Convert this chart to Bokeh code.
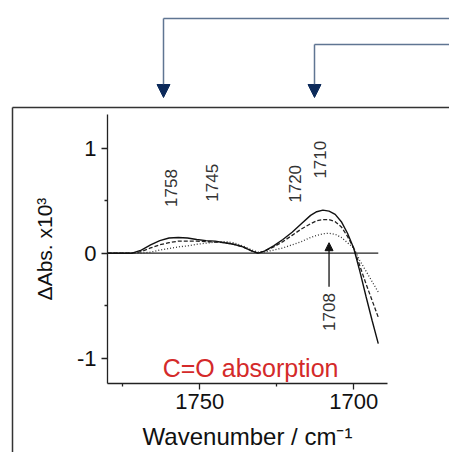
import numpy as np
from bokeh.plotting import figure
from bokeh.models import Arrow, NormalHead, FixedTicker, Range1d, Label
from bokeh.core.properties import value
from bokeh.embed import file_html
from bokeh.resources import INLINE

# Difference spectra in the C=O stretching region (wavenumber in cm^-1, dAbs x 10^3)
wavenumber = [1780, 1772, 1769, 1766, 1763, 1760, 1757, 1754, 1751, 1748, 1745,
              1742, 1739, 1736, 1733, 1731, 1729, 1726, 1723, 1720, 1717, 1714,
              1712, 1710, 1708, 1706, 1704, 1702, 1700, 1698, 1696, 1694, 1692]
solid = [0.0, 0.0, 0.03, 0.08, 0.12, 0.145, 0.15, 0.145, 0.13, 0.12, 0.115,
         0.10, 0.085, 0.06, 0.02, 0.0, 0.02, 0.07, 0.13, 0.20, 0.28, 0.36,
         0.395, 0.41, 0.40, 0.37, 0.30, 0.19, 0.05, -0.17, -0.41, -0.64, -0.86]
dashed = [0.0, 0.0, 0.015, 0.05, 0.08, 0.10, 0.115, 0.115, 0.115, 0.11, 0.105,
          0.10, 0.085, 0.06, 0.02, 0.0, 0.02, 0.06, 0.11, 0.17, 0.23, 0.28,
          0.31, 0.32, 0.32, 0.30, 0.25, 0.16, 0.05, -0.12, -0.29, -0.45, -0.61]
dotted = [0.0, 0.0, 0.0, 0.01, 0.03, 0.045, 0.06, 0.07, 0.085, 0.095, 0.105,
          0.11, 0.10, 0.07, 0.03, 0.01, 0.01, 0.03, 0.05, 0.08, 0.11, 0.15,
          0.17, 0.185, 0.19, 0.18, 0.15, 0.10, 0.05, -0.07, -0.17, -0.27, -0.37]

# Band assignments written above the peaks
band_labels = ["1758", "1745", "1720", "1710"]
band_x = [1759.5, 1746, 1719, 1711]
band_y = [0.44, 0.49, 0.48, 0.71]

marked_band = 1708

x_ticks = [1750, 1700]
x_minor = [1775, 1725]
y_ticks = [-1, 0, 1]
y_minor = [-0.5, 0.5]
y_tick_text = {-1: "-1", 0: "0", 1: "1"}

FONT = "Liberation Sans"

# canvas size and the pixel box occupied by the axes
W, H = 449, 452
BOX_L, BOX_R, BOX_T, BOX_B = 107, 387, 114, 383
X_HI, X_LO = 1780, 1689       # reversed wavenumber axis
Y_LO, Y_HI = -1.24, 1.32

# the frame spans the whole canvas; data ranges are widened so the axes sit in the box
dx = (X_HI - X_LO) / (BOX_R - BOX_L)
dy = (Y_HI - Y_LO) / (BOX_B - BOX_T)
x_range = Range1d(X_HI + BOX_L * dx, X_LO - (W - BOX_R) * dx)
y_range = Range1d(Y_LO - (H - BOX_B) * dy, Y_HI + BOX_T * dy)

p = figure(width=W, height=H, output_backend="svg", toolbar_location=None,
           x_range=x_range, y_range=y_range, min_border=0)
p.background_fill_color = "white"
p.border_fill_color = "white"
p.outline_line_color = None
p.grid.visible = False

# pixel coordinate system for the panel decorations
p.extra_x_ranges = {"px": Range1d(0, W)}
p.extra_y_ranges = {"px": Range1d(H, 0)}

p.xaxis.fixed_location = Y_LO
p.xaxis.bounds = (X_LO, X_HI)
p.yaxis.fixed_location = X_HI
p.yaxis.bounds = (Y_LO, Y_HI)

p.xaxis.ticker = FixedTicker(ticks=x_ticks, minor_ticks=x_minor)
p.yaxis.ticker = FixedTicker(ticks=y_ticks, minor_ticks=y_minor)
p.yaxis.major_label_overrides = y_tick_text
for ax in (p.xaxis, p.yaxis):
    ax.axis_line_color = "#222222"
    ax.axis_line_width = 1.3
    ax.major_tick_line_color = "#222222"
    ax.minor_tick_line_color = "#222222"
    ax.major_tick_line_width = 1.3
    ax.minor_tick_line_width = 1.3
    ax.major_tick_in = 0
    ax.major_tick_out = 6
    ax.minor_tick_in = 0
    ax.minor_tick_out = 3
    ax.major_label_text_font = FONT
    ax.major_label_text_font_size = "22px"
    ax.major_label_text_color = "#111111"
    ax.axis_label_text_font = FONT
    ax.axis_label_text_font_style = "normal"
    ax.axis_label_text_color = "#111111"
p.xaxis.major_label_standoff = 4
p.yaxis.major_label_standoff = 5
p.yaxis.major_label_orientation = "horizontal"
p.xaxis.axis_label = "Wavenumber / cm\u207b\u00b9"
p.yaxis.axis_label = "\u0394Abs. x10\u00b3"
p.xaxis.axis_label_text_font_size = "24px"
p.yaxis.axis_label_text_font_size = "21px"
p.xaxis.axis_label_standoff = 11
p.yaxis.axis_label_standoff = 18

# zero line across the measured range
p.line([wavenumber[0], wavenumber[-1]], [0, 0], line_color="#222222", line_width=1.2)

p.line(wavenumber, dotted, line_color="#333333", line_width=1.3, line_dash="1 2")
p.line(wavenumber, dashed, line_color="#222222", line_width=1.3, line_dash="4 2")
p.line(wavenumber, solid, line_color="#111111", line_width=1.4)

p.text(x=band_x, y=band_y, text=band_labels, angle=np.pi / 2,
       text_align="left", text_baseline="middle",
       text_font=value(FONT), text_font_size="17px", text_color="#333333")

p.add_layout(Arrow(x_start=marked_band, y_start=-0.32, x_end=marked_band, y_end=0.1,
                   line_color="#111111", line_width=1.3,
                   end=NormalHead(size=8, fill_color="#111111", line_color="#111111")))
p.add_layout(Label(x=marked_band, y=-0.38, text=str(marked_band), angle=np.pi / 2,
                   text_align="right", text_baseline="middle",
                   text_font=FONT, text_font_size="17px", text_color="#333333"))

p.add_layout(Label(x=1733.5, y=-1.09, text="C=O absorption", text_align="center",
                   text_baseline="alphabetic", text_font=FONT,
                   text_font_size="25px", text_color="#d42a2a"))

# panel border (top and left edges)
p.segment(x0=[12, 12], y0=[107, 107], x1=[W, 12], y1=[107, H],
          line_color="#333333", line_width=1.5,
          x_range_name="px", y_range_name="px")

# connector arrows coming in from the right above the panel
for xc, yc in [(163, 18), (314, 44)]:
    p.segment(x0=[W, xc], y0=[yc, yc], x1=[xc, xc], y1=[yc, 86],
              line_color="#5f7592", line_width=1.5,
              x_range_name="px", y_range_name="px")
    p.add_layout(Arrow(x_start=xc, y_start=84, x_end=xc, y_end=97,
                       x_range_name="px", y_range_name="px",
                       line_color="#5f7592", line_width=1.5,
                       end=NormalHead(size=13, fill_color="#0c2a5a",
                                      line_color="#0c2a5a", line_width=1)))

open("out.html", "w").write(file_html(p, INLINE))
